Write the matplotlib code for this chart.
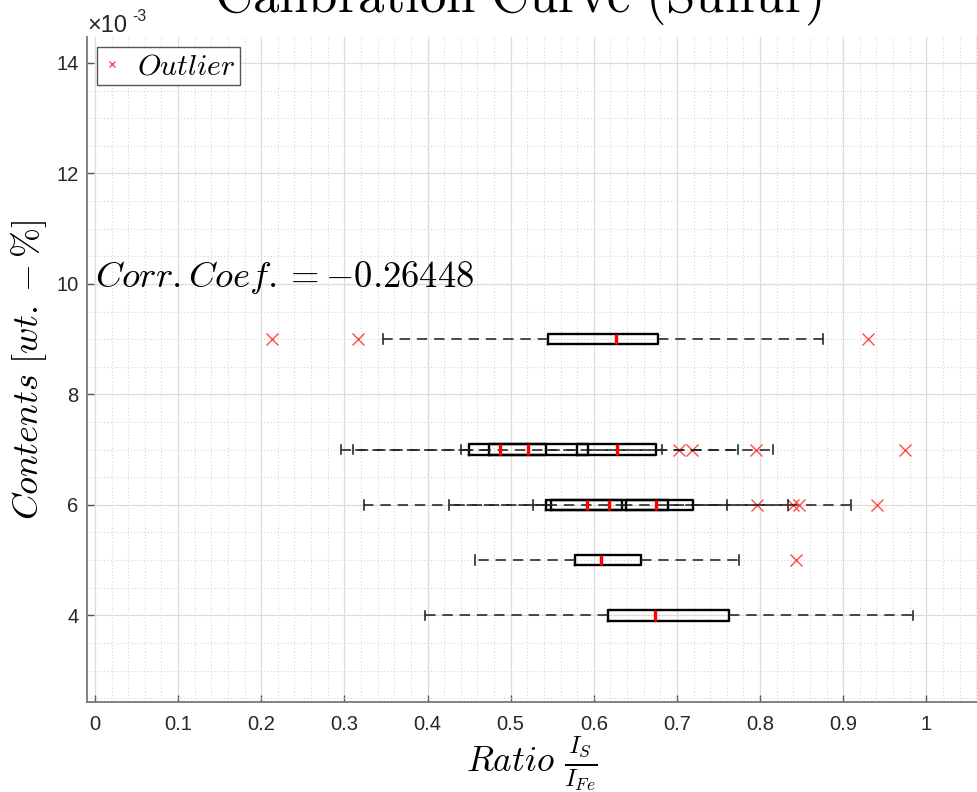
import matplotlib
matplotlib.use("Agg")
import matplotlib.pyplot as plt
from matplotlib.ticker import MultipleLocator, FixedLocator, FuncFormatter

plt.rcParams["mathtext.fontset"] = "cm"

# Sulfur content of each sample group (wt-%) and the box statistics of the
# intensity ratio I_S / I_Fe measured for it
contents = [0.004, 0.005, 0.006, 0.006, 0.006, 0.007, 0.007, 0.007, 0.009]
q1 = [0.6166, 0.5769, 0.5487, 0.5422, 0.6385, 0.4496, 0.4740, 0.5800, 0.5444]
median = [0.6733, 0.6084, 0.5914, 0.6182, 0.6749, 0.4876, 0.5208, 0.6280, 0.6267]
q3 = [0.7629, 0.6564, 0.6337, 0.6898, 0.7193, 0.5420, 0.5936, 0.6750, 0.6778]
whisker_lo = [0.3973, 0.4576, 0.4262, 0.3235, 0.5273, 0.3100, 0.2964, 0.4400, 0.3466]
whisker_hi = [0.9836, 0.7743, 0.7599, 0.9091, 0.8337, 0.6820, 0.7733, 0.8160, 0.8760]
outliers = [
    [],
    [0.8438],
    [0.7963, 0.8400],
    [0.9412],
    [0.8470],
    [0.7020, 0.7177],
    [0.7947],
    [0.9738],
    [0.2130, 0.3160, 0.9297],
]
corr_coef = -0.26448

x_ticks = [0, 0.1, 0.2, 0.3, 0.4, 0.5, 0.6, 0.7, 0.8, 0.9, 1.0]
y_ticks = [0.004, 0.006, 0.008, 0.010, 0.012, 0.014]

W, H = 977, 792
fig = plt.figure(figsize=(W / 100, H / 100), dpi=100)
ax = fig.add_axes([87 / W, 1 - 702 / H, (W - 87) / W, (702 - 37) / H])

stats = []
for i in range(len(contents)):
    stats.append(dict(q1=q1[i], med=median[i], q3=q3[i],
                      whislo=whisker_lo[i], whishi=whisker_hi[i],
                      fliers=outliers[i]))

art = ax.bxp(
    stats,
    positions=contents,
    widths=0.19e-3,
    capwidths=0.17e-3,
    orientation="horizontal",
    manage_ticks=False,
    boxprops=dict(color="black", linewidth=1.7),
    medianprops=dict(color="red", linewidth=2.4),
    whiskerprops=dict(color="#222222", linewidth=1.15, linestyle=(0, (6.5, 4.3))),
    capprops=dict(color="#222222", linewidth=1.15),
    flierprops=dict(marker="x", markeredgecolor="#ff4a4a", markersize=9,
                    markeredgewidth=1.0, linestyle="none"),
)
art["fliers"][-1].set_label("$Outlier$")

ax.set_xlim(-0.0096, 1.061)
ax.set_ylim(2.43e-3, 14.47e-3)

ax.xaxis.set_major_locator(FixedLocator(x_ticks))
ax.xaxis.set_major_formatter(FuncFormatter(lambda v, p: f"{v:g}"))
ax.yaxis.set_major_locator(FixedLocator(y_ticks))
ax.yaxis.set_major_formatter(FuncFormatter(lambda v, p: f"{v * 1e3:.0f}"))
ax.xaxis.set_minor_locator(MultipleLocator(0.02))
ax.yaxis.set_minor_locator(MultipleLocator(0.5e-3))

ax.set_axisbelow(True)
ax.grid(which="major", color="#dcdcdc", linewidth=0.9, linestyle="-")
ax.grid(which="minor", color="#d6d6d6", linewidth=0.8, linestyle=(0, (1, 2)))

for side in ("top", "right"):
    ax.spines[side].set_visible(False)
for side in ("left", "bottom"):
    ax.spines[side].set_color("#777777")
    ax.spines[side].set_linewidth(1.3)

ax.tick_params(which="major", direction="in", length=5, width=1.0,
               color="#555555", labelcolor="#262626", labelsize=14.5)
ax.tick_params(axis="x", which="major", pad=9)
ax.tick_params(axis="y", which="major", pad=6)
ax.tick_params(which="minor", length=0)
for lab in ax.get_xticklabels() + ax.get_yticklabels():
    lab.set_fontfamily("Liberation Sans")

# exponent shown above the vertical axis
fig.text(87 / W, 1 - 32 / H, "\u00d710", fontsize=17, color="#262626",
         family="Liberation Sans", ha="left", va="baseline")
fig.text(132 / W, 1 - 21 / H, "-3", fontsize=11.5, color="#262626",
         family="Liberation Sans", ha="left", va="baseline")

ax.set_xlabel(r"$Ratio\ \frac{I_S}{I_{Fe}}$", fontsize=25.5, labelpad=0.5)
ax.set_ylabel(r"$Contents\ [wt.-\%]$", fontsize=26, labelpad=5)

fig.text(518 / W, 1 - 12 / H, r"$\mathrm{Calibration\ Curve\ (Sulfur)}$",
         fontsize=38, ha="center", va="baseline")

ax.text(0.0, 9.94e-3, rf"$Corr.Coef. = {corr_coef:.5f}$", fontsize=26.4,
        ha="left", va="baseline")

leg = ax.legend(loc="upper left", bbox_to_anchor=(10 / 890, 1 - 9.7 / 665),
                borderaxespad=0, fontsize=21.5, markerscale=0.55,
                handlelength=0.7, handletextpad=0.5, borderpad=0.15,
                fancybox=False, framealpha=1)
leg.get_frame().set_edgecolor("#555555")
leg.get_frame().set_linewidth(1.0)

fig.savefig("out.png", dpi=100)
